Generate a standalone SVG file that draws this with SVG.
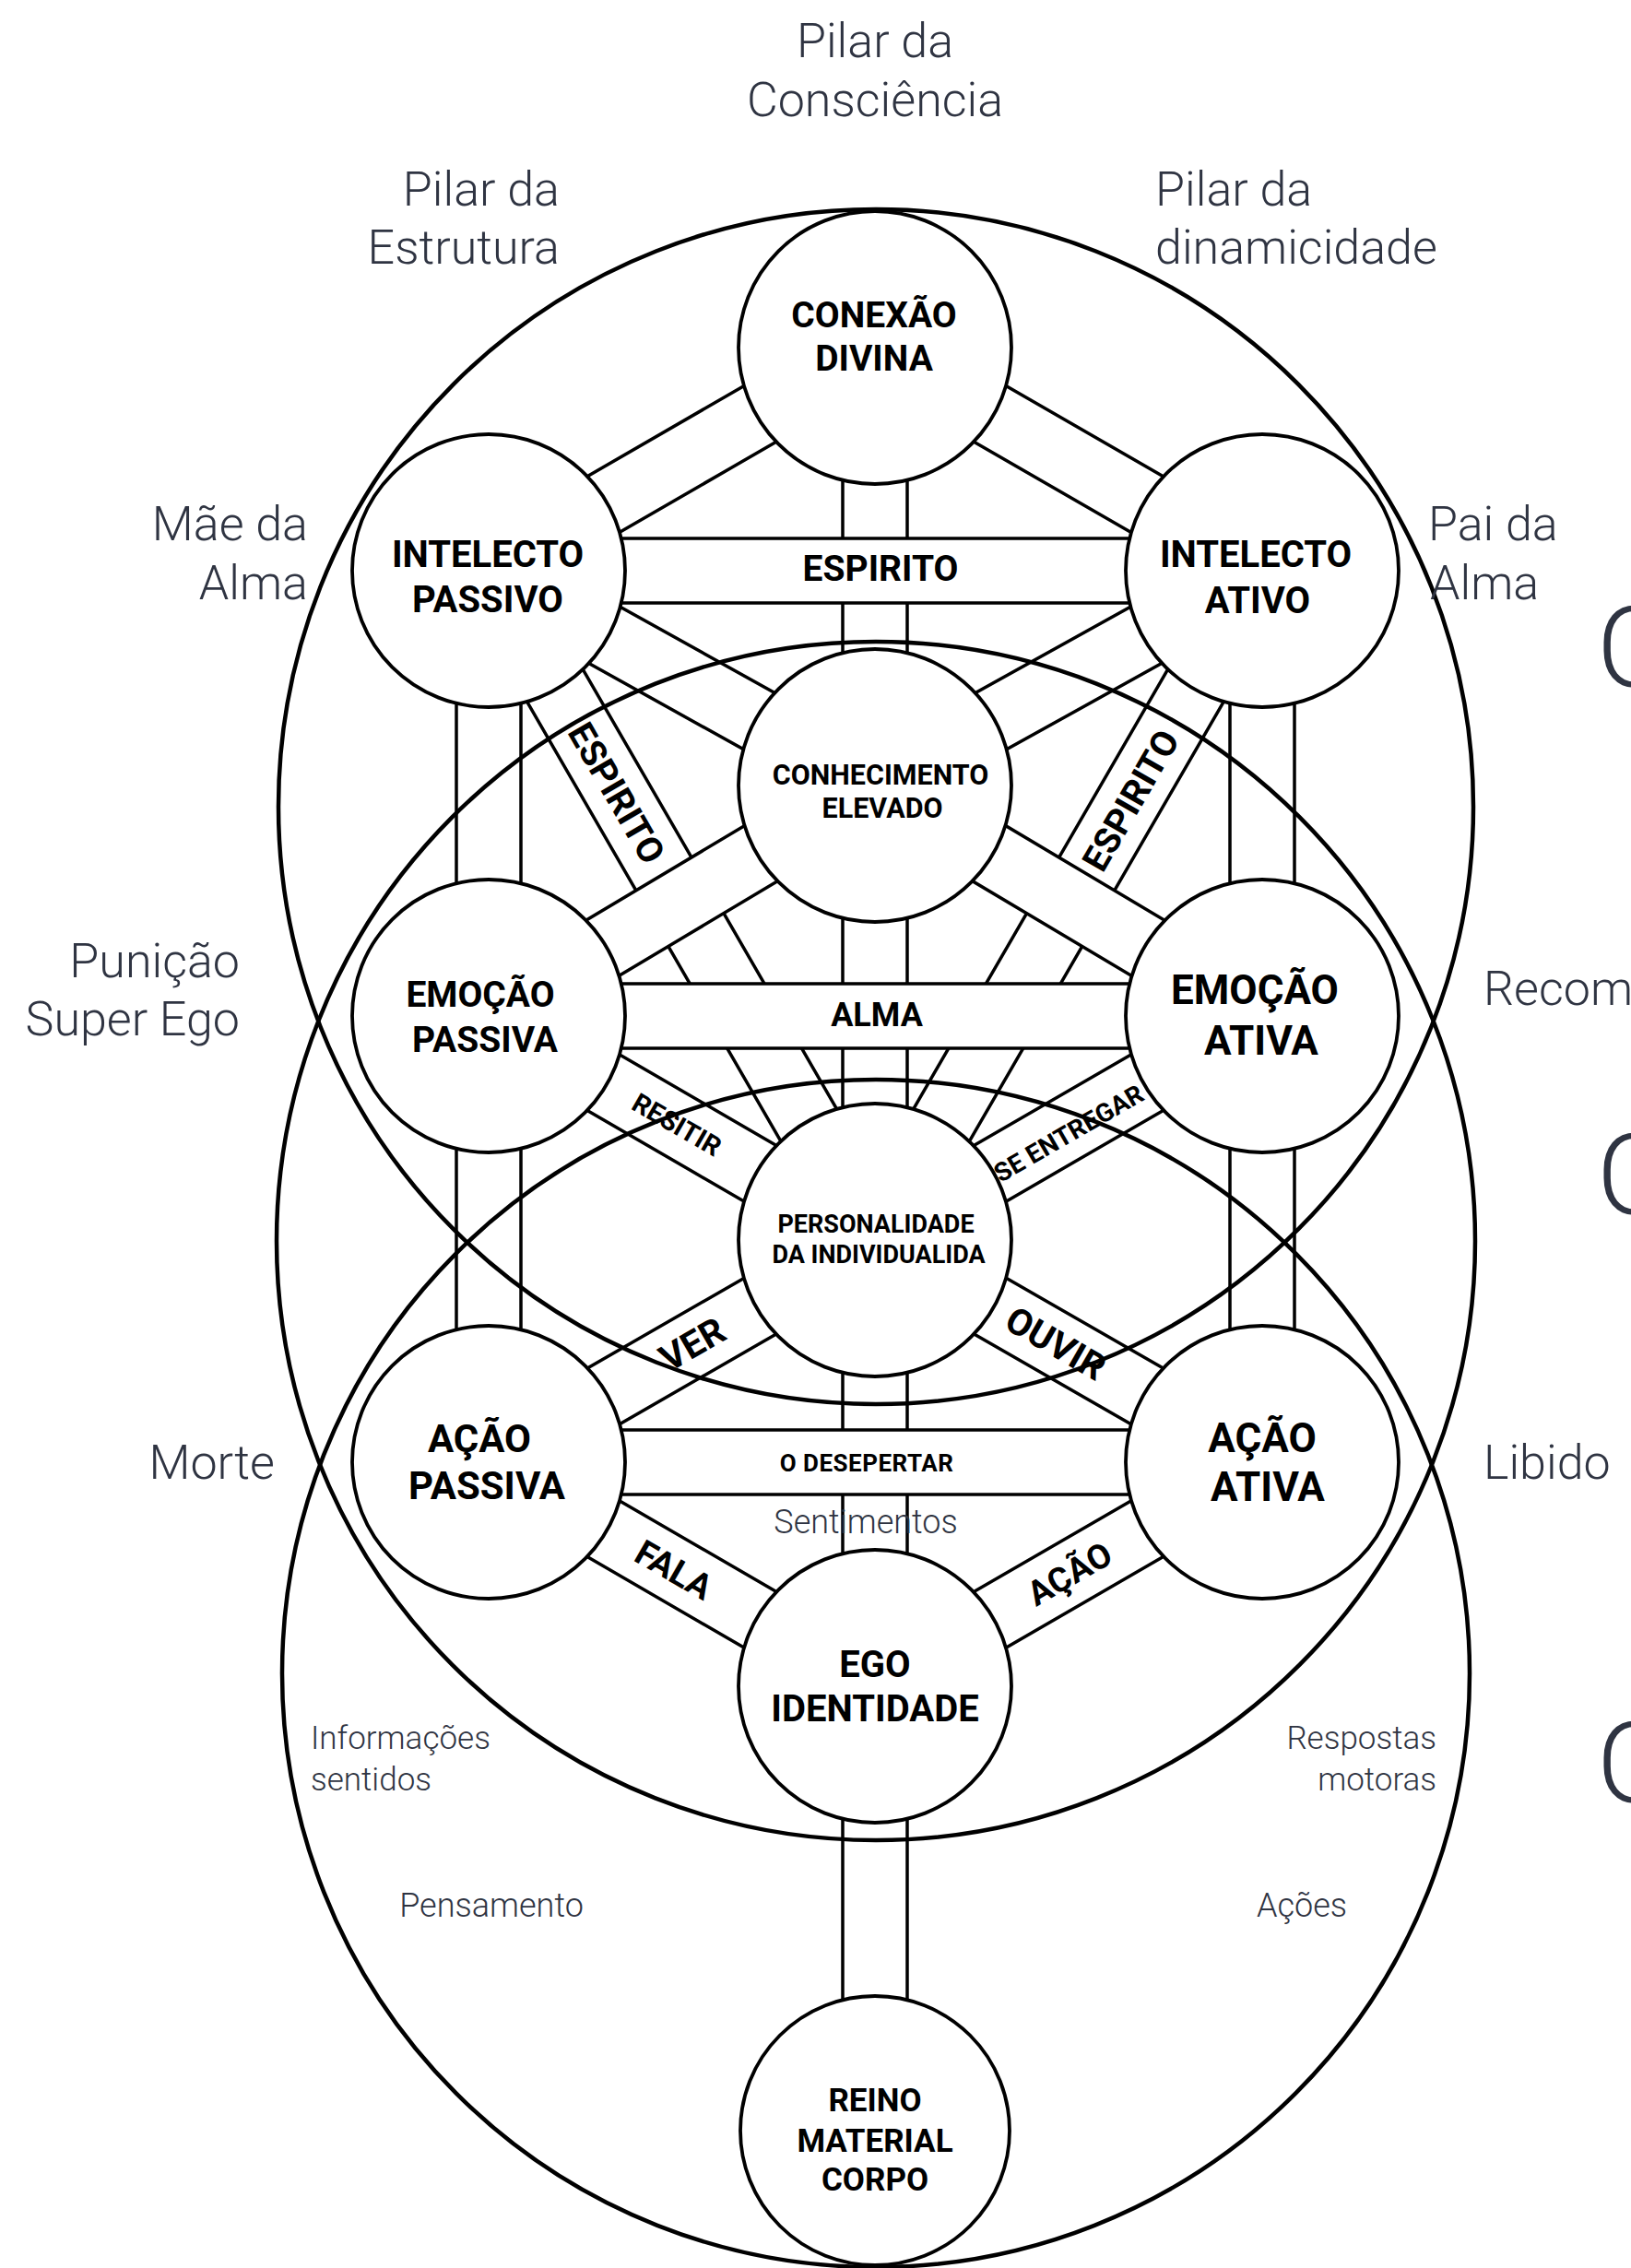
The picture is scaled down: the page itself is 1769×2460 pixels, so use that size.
<svg xmlns="http://www.w3.org/2000/svg" width="1769" height="2460" viewBox="0 0 1769 2460">
<style>
.bar rect{fill:#fff;stroke:none}
.bar path{fill:none;stroke:#000;stroke-width:3.5}
.node circle{fill:#fff;stroke:#000;stroke-width:3.8}
.nt{font-family:Roboto,"Liberation Sans",sans-serif;font-weight:700;fill:#000;text-anchor:middle}
.bt{font-family:Roboto,"Liberation Sans",sans-serif;font-weight:700;fill:#000;text-anchor:middle}
.big{fill:none;stroke:#000;stroke-width:4.5}
.g{font-family:Roboto,"Liberation Sans",sans-serif;font-weight:300;fill:#2f3442}
</style>
<rect width="1769" height="2460" fill="#fff"/>
<g id="connectors">
  <g id="c-intp-pers" class="bar" transform="translate(530,619) rotate(60)"><rect x="0" y="-35" width="838" height="70"/><path d="M0,-35H838M0,35H838"/></g>
  <g id="c-inta-pers" class="bar" transform="translate(1369,619) rotate(120.05)"><rect x="0" y="-35" width="839" height="70"/><path d="M0,-35H839M0,35H839"/></g>
  <text class="bt" font-size="39" transform="translate(669,860) rotate(60)" y="14">ESPIRITO</text>
  <text class="bt" font-size="39" transform="translate(1226,868) rotate(-60)" y="14">ESPIRITO</text>
  <g id="c-con-conh" class="bar"><rect x="914" y="377" width="70" height="475"/><path d="M914,377V852M984,377V852"/></g>
  <g id="c-conh-pers" class="bar"><rect x="914" y="852" width="70" height="493"/><path d="M914,852V1345M984,852V1345"/></g>
  <g id="c-pers-ego" class="bar"><rect x="914" y="1345" width="70" height="484"/><path d="M914,1345V1829M984,1345V1829"/></g>
  <g id="c-ego-reino" class="bar"><rect x="914" y="1829" width="70" height="482"/><path d="M914,1829V2311M984,1829V2311"/></g>
  <g id="c-intp-emop" class="bar"><rect x="495" y="619" width="70" height="483"/><path d="M495,619V1102M565,619V1102"/></g>
  <g id="c-emop-acap" class="bar"><rect x="495" y="1102" width="70" height="484"/><path d="M495,1102V1586M565,1102V1586"/></g>
  <g id="c-inta-emoa" class="bar"><rect x="1334" y="619" width="70" height="483"/><path d="M1334,619V1102M1404,619V1102"/></g>
  <g id="c-emoa-acaa" class="bar"><rect x="1334" y="1102" width="70" height="484"/><path d="M1334,1102V1586M1404,1102V1586"/></g>
  <g id="c-con-intp" class="bar" transform="translate(949,377) rotate(150)"><rect x="0" y="-35" width="484" height="70"/><path d="M0,-35H484M0,35H484"/></g>
  <g id="c-con-inta" class="bar" transform="translate(949,377) rotate(29.95)"><rect x="0" y="-35" width="485" height="70"/><path d="M0,-35H485M0,35H485"/></g>
  <g id="c-intp-conh" class="bar" transform="translate(530,619) rotate(29.08)"><rect x="0" y="-35" width="479" height="70"/><path d="M0,-35H479M0,35H479"/></g>
  <g id="c-inta-conh" class="bar" transform="translate(1369,619) rotate(150.98)"><rect x="0" y="-35" width="480" height="70"/><path d="M0,-35H480M0,35H480"/></g>
  <g id="c-conh-emop" class="bar" transform="translate(949,852) rotate(149.18)"><rect x="0" y="-35" width="488" height="70"/><path d="M0,-35H488M0,35H488"/></g>
  <g id="c-conh-emoa" class="bar" transform="translate(949,852) rotate(30.76)"><rect x="0" y="-35" width="489" height="70"/><path d="M0,-35H489M0,35H489"/></g>
  <g id="c-emop-pers" class="bar" transform="translate(530,1102) rotate(30.11)"><rect x="0" y="-35" width="484" height="70"/><path d="M0,-35H484M0,35H484"/></g>
  <g id="c-emoa-pers" class="bar" transform="translate(1369,1102) rotate(149.95)"><rect x="0" y="-35" width="485" height="70"/><path d="M0,-35H485M0,35H485"/></g>
  <g id="c-pers-acap" class="bar" transform="translate(949,1345) rotate(150.09)"><rect x="0" y="-35" width="483" height="70"/><path d="M0,-35H483M0,35H483"/></g>
  <g id="c-pers-acaa" class="bar" transform="translate(949,1345) rotate(29.85)"><rect x="0" y="-35" width="484" height="70"/><path d="M0,-35H484M0,35H484"/></g>
  <g id="c-acap-ego" class="bar" transform="translate(530,1586) rotate(30.11)"><rect x="0" y="-35" width="484" height="70"/><path d="M0,-35H484M0,35H484"/></g>
  <g id="c-acaa-ego" class="bar" transform="translate(1369,1586) rotate(149.95)"><rect x="0" y="-35" width="485" height="70"/><path d="M0,-35H485M0,35H485"/></g>
  <text class="bt" font-size="29" transform="translate(734,1220) rotate(30)" y="10">RESITIR</text>
  <text class="bt" font-size="28" transform="translate(1159,1229) rotate(-30)" y="10">SE ENTREGAR</text>
  <text class="bt" font-size="40" transform="translate(751,1458) rotate(-30)" y="14">VER</text>
  <text class="bt" font-size="40" transform="translate(1145,1457) rotate(30)" y="14">OUVIR</text>
  <text class="bt" font-size="38" transform="translate(731,1703) rotate(30)" y="13">FALA</text>
  <text class="bt" font-size="37" transform="translate(1160,1707) rotate(-30)" y="13">AÇÃO</text>
  <g id="c-intp-inta" class="bar"><rect x="530" y="584" width="839" height="70"/><path d="M530,584H1369M530,654H1369"/><text class="bt" font-size="39" x="955" y="630">ESPIRITO</text></g>
  <g id="c-emop-emoa" class="bar"><rect x="530" y="1067" width="839" height="70"/><path d="M530,1067H1369M530,1137H1369"/><text class="bt" font-size="36" x="951" y="1113">ALMA</text></g>
  <g id="c-acap-acaa" class="bar"><rect x="530" y="1551" width="839" height="70"/><path d="M530,1551H1369M530,1621H1369"/><text class="bt" font-size="26" x="940" y="1596" letter-spacing="0.5">O DESEPERTAR</text></g>
</g>
<g id="n-conexao" class="node"><circle cx="949" cy="377" r="148"/><text class="nt" font-size="39"><tspan x="948" y="355">CONEXÃO</tspan><tspan x="948" y="402">DIVINA</tspan></text></g>
<g id="n-intelecto-passivo" class="node"><circle cx="530" cy="619" r="148"/><text class="nt" font-size="40"><tspan x="529" y="615">INTELECTO</tspan><tspan x="529" y="664">PASSIVO</tspan></text></g>
<g id="n-intelecto-ativo" class="node"><circle cx="1369" cy="619" r="148"/><text class="nt" font-size="40"><tspan x="1362" y="615">INTELECTO</tspan><tspan x="1364" y="665">ATIVO</tspan></text></g>
<g id="n-conhecimento" class="node"><circle cx="949" cy="852" r="148"/><text class="nt" font-size="30.5"><tspan x="955" y="851">CONHECIMENTO</tspan><tspan x="957" y="887">ELEVADO</tspan></text></g>
<g id="n-emocao-passiva" class="node"><circle cx="530" cy="1102" r="148"/><text class="nt" font-size="39"><tspan x="521" y="1092">EMOÇÃO</tspan><tspan x="526" y="1141">PASSIVA</tspan></text></g>
<g id="n-emocao-ativa" class="node"><circle cx="1369" cy="1102" r="148"/><text class="nt" font-size="44"><tspan x="1361" y="1089">EMOÇÃO</tspan><tspan x="1368" y="1144">ATIVA</tspan></text></g>
<g id="n-personalidade" class="node"><circle cx="949" cy="1345" r="148"/><text class="nt" font-size="27"><tspan x="950" y="1337">PERSONALIDADE</tspan><tspan x="953" y="1370">DA INDIVIDUALIDA</tspan></text></g>
<g id="n-acao-passiva" class="node"><circle cx="530" cy="1586" r="148"/><text class="nt" font-size="42"><tspan x="520" y="1575">AÇÃO</tspan><tspan x="528" y="1626">PASSIVA</tspan></text></g>
<g id="n-acao-ativa" class="node"><circle cx="1369" cy="1586" r="148"/><text class="nt" font-size="44"><tspan x="1369" y="1575">AÇÃO</tspan><tspan x="1375" y="1628">ATIVA</tspan></text></g>
<g id="n-ego" class="node"><circle cx="949" cy="1829" r="148"/><text class="nt" font-size="40"><tspan x="949" y="1819">EGO</tspan><tspan x="949" y="1867">IDENTIDADE</tspan></text></g>
<g id="n-reino" class="node"><circle cx="949" cy="2311" r="146"/><text class="nt" font-size="35"><tspan x="949" y="2290">REINO</tspan><tspan x="949" y="2334">MATERIAL</tspan><tspan x="949" y="2376">CORPO</tspan></text></g>
<g id="big-circles">
  <circle class="big" cx="950" cy="875" r="648"/>
  <circle class="big" cx="950" cy="1346" r="650"/>
  <circle class="big" cx="950" cy="1815" r="644"/>
</g>
<g id="labels">
  <text class="g" font-size="52" text-anchor="middle"><tspan x="949" y="62">Pilar da</tspan><tspan x="949" y="126">Consciência</tspan></text>
  <text class="g" font-size="52" text-anchor="end"><tspan x="607" y="223">Pilar da</tspan><tspan x="607" y="286">Estrutura</tspan></text>
  <text class="g" font-size="52"><tspan x="1253" y="223">Pilar da</tspan><tspan x="1253" y="286">dinamicidade</tspan></text>
  <text class="g" font-size="52" text-anchor="end"><tspan x="334" y="586">Mãe da</tspan><tspan x="334" y="650">Alma</tspan></text>
  <text class="g" font-size="52"><tspan x="1549" y="586">Pai da</tspan><tspan x="1551" y="650">Alma</tspan></text>
  <text class="g" font-size="52" text-anchor="end"><tspan x="260" y="1060">Punição</tspan><tspan x="260" y="1123">Super Ego</tspan></text>
  <text class="g" font-size="52" x="1609" y="1090">Recom</text>
  <text class="g" font-size="52" x="298" y="1604" text-anchor="end">Morte</text>
  <text class="g" font-size="52" x="1609" y="1604">Libido</text>
  <text class="g" font-size="122" x="1732" y="745">O</text>
  <text class="g" font-size="122" x="1732" y="1317">O</text>
  <text class="g" font-size="122" x="1732" y="1955">O</text>
  <text class="g" font-size="36" x="939" y="1663" text-anchor="middle">Sentimentos</text>
  <text class="g" font-size="35"><tspan x="337" y="1897">Informações</tspan><tspan x="337" y="1942">sentidos</tspan></text>
  <text class="g" font-size="35" text-anchor="end"><tspan x="1558" y="1897">Respostas</tspan><tspan x="1558" y="1942">motoras</tspan></text>
  <text class="g" font-size="36" x="533" y="2079" text-anchor="middle">Pensamento</text>
  <text class="g" font-size="36" x="1412" y="2079" text-anchor="middle">Ações</text>
</g>
</svg>
